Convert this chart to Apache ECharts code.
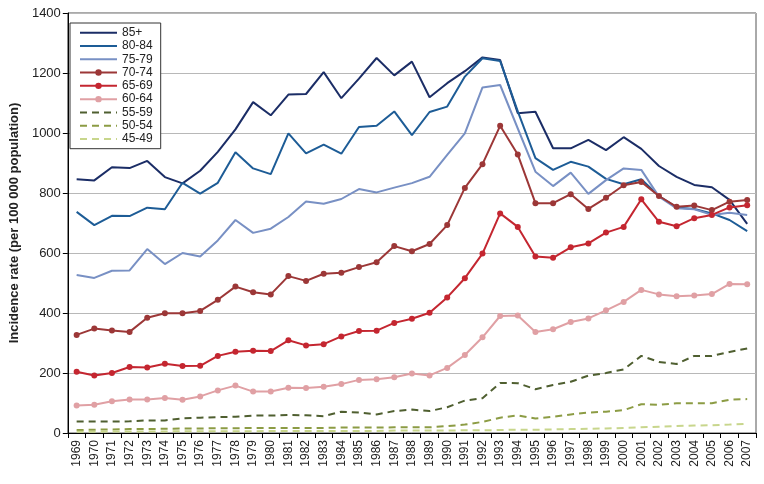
<!DOCTYPE html>
<html><head><meta charset="utf-8">
<script src="https://cdn.jsdelivr.net/npm/echarts@6/dist/echarts.min.js"></script>
<style>html,body{margin:0;padding:0;background:#fff}#c{width:764px;height:484px}</style>
</head><body><div id="c"></div>
<script>
const years = [];
for (let y = 1969; y <= 2007; y++) years.push(String(y));
const yTicks = [0,200,400,600,800,1000,1200,1400];
const s85 = [846,842,886,883,907,853,832,874,937,1012,1103,1059,1128,1130,1203,1116,1181,1250,1192,1238,1119,1166,1206,1252,1243,1066,1071,949,949,977,943,986,947,890,854,827,819,777,697];
const s80 = [737,693,724,723,751,746,834,798,834,936,882,863,999,932,961,931,1020,1024,1072,993,1070,1088,1188,1249,1240,1072,916,877,904,888,847,829,846,790,752,747,732,710,673];
const s75 = [527,517,541,542,613,563,600,588,642,710,667,681,720,772,764,780,813,802,818,833,854,927,999,1152,1160,1015,871,823,868,797,843,882,877,788,749,746,727,734,727];
const s70 = [327,348,342,337,384,399,399,407,444,488,469,462,523,507,531,534,553,569,623,606,630,693,817,896,1024,928,766,766,796,747,784,826,837,790,754,758,743,771,777];
const s65 = [204,192,200,220,218,231,223,224,257,271,274,273,309,292,296,322,340,341,367,381,401,452,516,598,732,687,588,584,619,632,668,687,779,704,689,716,727,752,759];
const s60 = [92,94,106,112,112,117,111,122,142,158,138,138,151,150,154,163,177,179,186,198,192,217,260,319,390,392,337,346,370,382,409,437,477,462,456,458,463,497,496];
const s55 = [38,38,38,39,42,42,49,51,53,54,58,58,60,59,56,71,68,62,73,78,73,86,108,116,167,166,146,160,171,191,200,212,257,237,230,257,257,270,282];
const s50 = [10,11,12,13,13,14,15,15,16,16,17,17,17,17,17,18,18,18,19,19,19,23,28,37,51,59,48,54,62,68,71,76,96,94,99,99,99,111,113];
const s45 = [4,4,5,5,5,5,6,6,6,6,6,7,7,7,7,7,7,7,8,8,8,8,9,9,10,11,11,12,13,14,15,17,19,21,23,25,26,28,31];
const names = ['85+','80-84','75-79','70-74','65-69','60-64','55-59','50-54','45-49'];
const withMarker = ['70-74','65-69','60-64'];

function ser(name, data, color, opts) {
  opts = opts || {};
  return {
    name: name, type: 'line', data: data,
    symbol: opts.marker ? 'circle' : 'none',
    symbolSize: 6, showSymbol: !!opts.marker,
    itemStyle: { color: color },
    lineStyle: { color: color, width: 2, type: opts.dashed ? [7, 5] : 'solid' },
    animation: false
  };
}

const chart = echarts.init(document.getElementById('c'), null, { renderer: 'canvas' });
chart.setOption({
  animation: false,
  backgroundColor: '#fff',
  textStyle: { fontFamily: 'Liberation Sans, Arial, sans-serif' },
  grid: { left: 61, right: 8, top: 13, bottom: 51, show: true, borderColor: '#555', borderWidth: 1, backgroundColor: 'transparent' },
  legend: {
    orient: 'vertical', left: 70, top: 23,
    itemWidth: 37, itemHeight: 8, itemGap: 0,
    padding: [3, 8, 3, 9],
    borderColor: '#333', borderWidth: 1, backgroundColor: '#fff',
    textStyle: { fontSize: 12, lineHeight: 13.3, color: '#222', fontFamily: 'Liberation Sans, Arial, sans-serif' },
    data: names.map(n => withMarker.indexOf(n) >= 0 ? { name: n } : { name: n, itemStyle: { opacity: 0 } })
  },
  xAxis: {
    type: 'category', data: years, boundaryGap: true,
    axisLine: { lineStyle: { color: '#000', width: 1 } },
    axisTick: { show: true, interval: 0, length: 5, lineStyle: { color: '#000' } },
    axisLabel: { interval: 0, rotate: 90, fontSize: 12, color: '#222', margin: 7 },
    splitLine: { show: false }
  },
  yAxis: {
    type: 'value', min: yTicks[0], max: yTicks[yTicks.length - 1], interval: 200,
    name: 'Incidence rate (per 100 000 population)',
    nameLocation: 'middle', nameGap: 38,
    nameTextStyle: { fontWeight: 'bold', fontSize: 13, color: '#222' },
    axisLine: { show: true, lineStyle: { color: '#000' } },
    axisTick: { show: true, length: 5, lineStyle: { color: '#000' } },
    axisLabel: { fontSize: 13, color: '#222', margin: 7, formatter: v => String(v) },
    splitLine: { show: true, lineStyle: { color: '#b8b8b8', width: 1 } }
  },
  series: [
    ser('85+', s85, '#1b2d66'),
    ser('80-84', s80, '#1d5c96'),
    ser('75-79', s75, '#7890c4'),
    ser('70-74', s70, '#9c3737', { marker: true }),
    ser('65-69', s65, '#c42630', { marker: true }),
    ser('60-64', s60, '#e0a0a4', { marker: true }),
    ser('55-59', s55, '#4f5f30', { dashed: true }),
    ser('50-54', s50, '#8c9c44', { dashed: true }),
    ser('45-49', s45, '#c8d68c', { dashed: true })
  ]
});
</script></body></html>
